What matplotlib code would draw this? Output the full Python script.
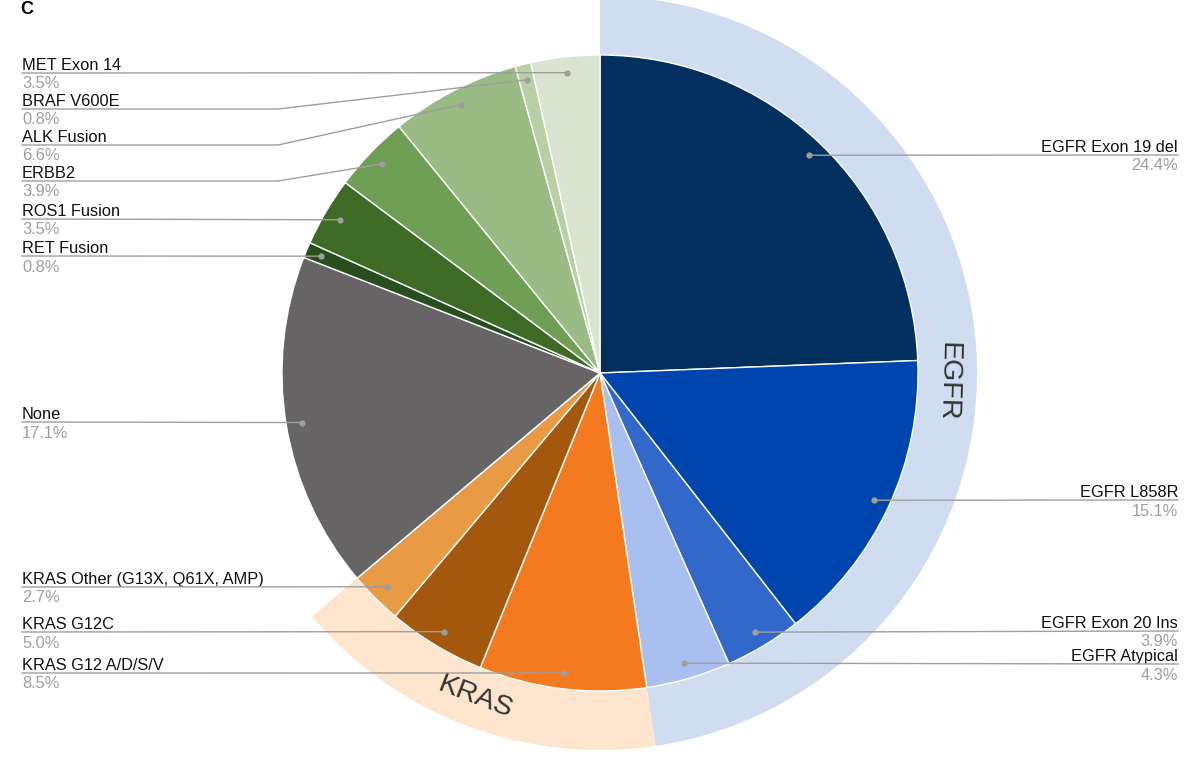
import numpy as np
import matplotlib
matplotlib.use('Agg')
import matplotlib.pyplot as plt

# data, clockwise from 12 o'clock
labels = ['EGFR Exon 19 del', 'EGFR L858R', 'EGFR Exon 20 Ins', 'EGFR Atypical',
          'KRAS G12 A/D/S/V', 'KRAS G12C', 'KRAS Other (G13X, Q61X, AMP)',
          'None', 'RET Fusion', 'ROS1 Fusion', 'ERBB2', 'ALK Fusion',
          'BRAF V600E', 'MET Exon 14']
values = [24.4, 15.1, 3.9, 4.3, 8.5, 5.0, 2.7, 17.1, 0.8, 3.5, 3.9, 6.6, 0.8, 3.5]
colors = ['#01305f', '#0045ad', '#3368cb', '#a9bfef',
          '#f5791f', '#a3580d', '#e89a45',
          '#666465', '#274e1c', '#3d6b26', '#6f9e55', '#9bbb84',
          '#b9d0a7', '#dae4d0']

groups = ['EGFR', 'KRAS']
group_members = [4, 3]
group_colors = ['#d0ddf1', '#fde6cd']

# label layout (pixel rows of leader lines, side, elbow)
line_y = [155, 500, 631, 664, 673, 632, 587, 422, 256, 219, 181, 145, 109, 73]
side = ['R', 'R', 'R', 'R', 'L', 'L', 'L', 'L', 'L', 'L', 'L', 'L', 'L', 'L']
bent = [False] * 10 + [True, True, True, False]

W, H = 1200, 762
cx, cy = 600, H - 373
R = 318
R_ring = 377

fig = plt.figure(figsize=(12, 7.62), dpi=100)
ax = fig.add_axes([0, 0, 1, 1])
plt.rcParams['font.family'] = ['Liberation Sans', 'DejaVu Sans']

# outer group ring
egfr_sum = sum(values[:group_members[0]])
kras_sum = sum(values[group_members[0]:group_members[0] + group_members[1]])
ring_vals = [egfr_sum, kras_sum, sum(values) - egfr_sum - kras_sum]
ax.pie(ring_vals, radius=R_ring, center=(cx, cy), startangle=90, counterclock=False,
       colors=group_colors + ['none'], wedgeprops=dict(width=R_ring - R + 4, edgecolor='none'))

# main pie
ax.pie(values, radius=R, center=(cx, cy), startangle=90, counterclock=False,
       colors=colors, wedgeprops=dict(edgecolor='white', linewidth=1))

total = sum(values)
cum = np.cumsum([0] + values)
gray = '#9e9e9e'
for i, lab in enumerate(labels):
    frac = (cum[i] + values[i] / 2) / total
    th = np.deg2rad(frac * 360)
    dx = cx + 0.95 * R * np.sin(th)
    dy = cy + 0.95 * R * np.cos(th)
    ly = H - line_y[i]
    if side[i] == 'L':
        tx = 22
        if bent[i]:
            xs, ys = [tx, 278, dx], [ly, ly, dy]
        else:
            xs, ys = [tx, dx], [ly, dy]
        ha = 'left'
    else:
        tx = 1178
        xs, ys = [tx, dx], [ly, dy]
        ha = 'right'
    ax.plot(xs, ys, color=gray, lw=1, zorder=5)
    ax.plot([dx], [dy], 'o', color=gray, ms=3.5, zorder=6)
    ax.text(tx, ly + 3, lab, ha=ha, va='baseline', fontsize=11.8, color='#111111')
    ax.text(tx, ly - 15.5, f'{values[i]:.1f}%', ha=ha, va='baseline', fontsize=11.8, color=gray)

# group ring labels
r_txt = (R + R_ring) / 2
for name, ang, flip in [('EGFR', 91.5, False), ('KRAS', 201, True)]:
    th = np.deg2rad(ang)
    rot = 180 - ang if flip else -ang
    ax.text(cx + r_txt * np.sin(th), cy + r_txt * np.cos(th), name, ha='center', va='center',
            rotation=rot, rotation_mode='anchor', fontsize=20.5, color='#333333')

ax.text(20, H - 1, 'C', fontsize=13, fontweight='bold', ha='left', va='top')

ax.set_xlim(0, W)
ax.set_ylim(0, H)
ax.set_aspect('auto')
ax.axis('off')
fig.savefig('out.png', dpi=100)
